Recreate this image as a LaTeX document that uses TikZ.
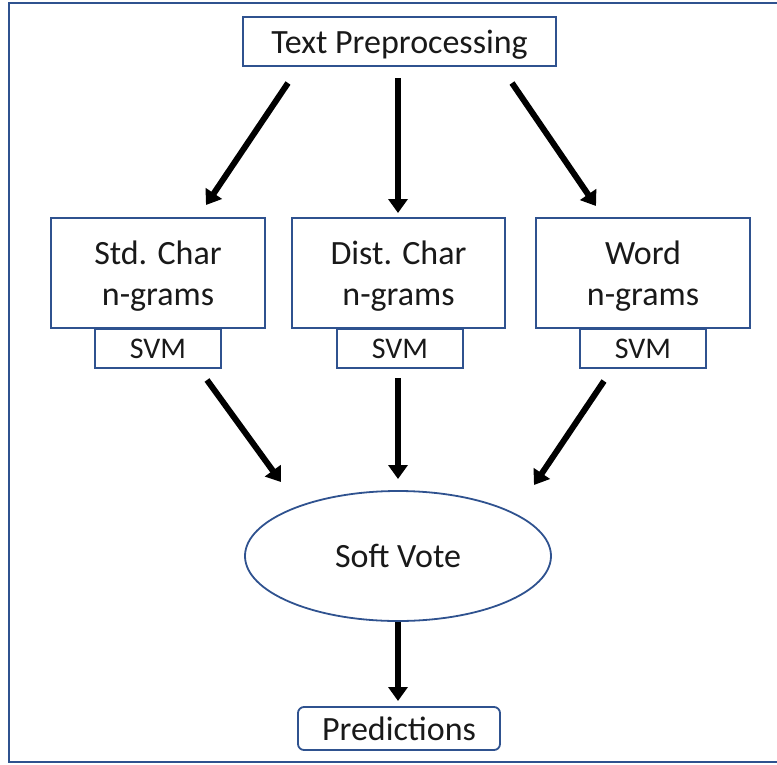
\documentclass[tikz,border=0pt]{standalone}
\usepackage{fontspec}
\setmainfont{Carlito}
\usetikzlibrary{arrows.meta,shapes.geometric}
\definecolor{edgeblue}{RGB}{47,82,143}
\definecolor{ink}{RGB}{25,25,25}
\begin{document}
\begin{tikzpicture}[x=1pt,y=-1pt,
  box/.style={draw=edgeblue,line width=1.8pt,text=ink,font=\fontsize{34}{41}\selectfont,align=center,inner sep=0pt,text depth=0pt},
  svmbox/.style={draw=edgeblue,line width=1.8pt,text=ink,font=\fontsize{30}{36}\selectfont,inner sep=0pt,text depth=0pt,minimum width=126pt,minimum height=39pt},
  flow/.style={line width=6pt,-{Triangle[length=14pt,width=19pt]}}]
\useasboundingbox (0,0) rectangle (777,764);
% outer frame
\draw[edgeblue,line width=2pt] (785,3) -- (9,3) -- (9,762) -- (785,762);
% nodes
\node[box,minimum width=313pt,minimum height=49pt] (pre) at (399.5,41.5) {Text Preprocessing};
\node[box,minimum width=214pt,minimum height=110pt] (std) at (158,273) {Std. Char\\n-grams};
\node[box,minimum width=213pt,minimum height=110pt] (dist) at (398.5,273) {Dist. Char\\n-grams};
\node[box,minimum width=214pt,minimum height=110pt] (word) at (643,273) {Word\\n-grams};
\node[svmbox] (svm1) at (158,348.5) {SVM};
\node[svmbox] (svm2) at (400,348.5) {SVM};
\node[svmbox] (svm3) at (643,348.5) {SVM};
\node[draw=edgeblue,line width=1.8pt,ellipse,minimum width=306pt,minimum height=130pt,inner sep=0pt,text=ink,font=\fontsize{34}{41}\selectfont] (vote) at (398,556) {Soft Vote};
\node[box,rounded corners=6pt,minimum width=202pt,minimum height=43pt] (pred) at (399,728.5) {Predictions};
% arrows
\coordinate (a1) at (288,83); \coordinate (b1) at (206,205);
\coordinate (a2) at (398,78); \coordinate (b2) at (398,213);
\coordinate (a3) at (512,83); \coordinate (b3) at (596,206);
\draw[flow] (a1) -- (b1);
\draw[flow] (a2) -- (b2);
\draw[flow] (a3) -- (b3);
\coordinate (c1) at (207,380); \coordinate (d1) at (281,482);
\coordinate (c2) at (398,378); \coordinate (d2) at (398,479);
\coordinate (c3) at (604,381); \coordinate (d3) at (534,485);
\draw[flow] (c1) -- (d1);
\draw[flow] (c2) -- (d2);
\draw[flow] (c3) -- (d3);
\draw[flow] (vote.south) -- (398,701) coordinate (e);
\end{tikzpicture}
\end{document}
